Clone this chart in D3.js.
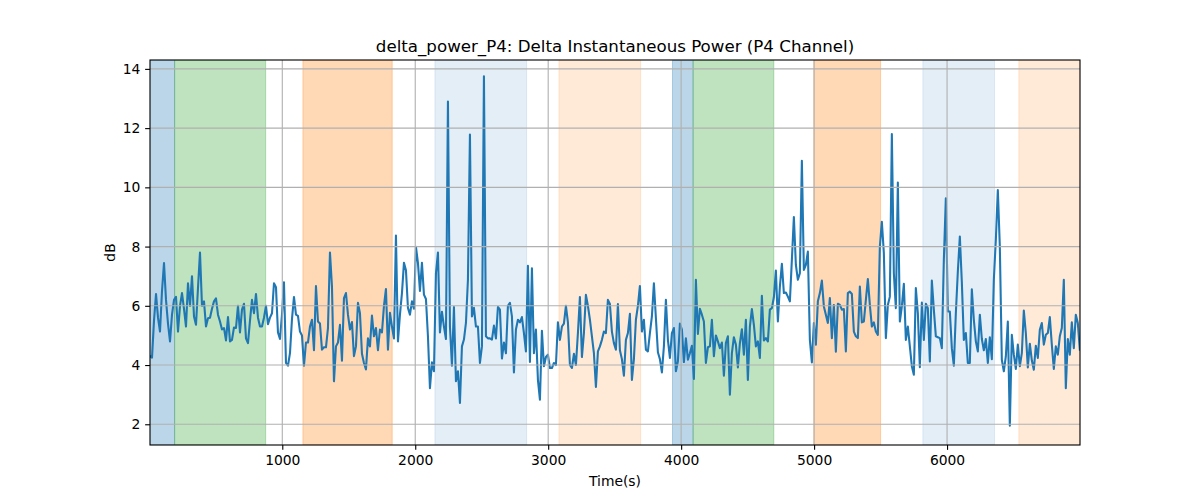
<!DOCTYPE html>
<html>
<head>
<meta charset="utf-8">
<script src="https://cdn.jsdelivr.net/npm/d3@7"></script>
<style>
  html, body { margin: 0; padding: 0; background: #ffffff; }
  svg { display: block; font-family: "DejaVu Sans", sans-serif; }
</style>
</head>
<body>
<svg id="chart" width="1200" height="500"></svg>
<script>
// ---- data ----
const titleText = "delta_power_P4: Delta Instantaneous Power (P4 Channel)";
const xLabel = "Time(s)";
const yLabel = "dB";
const xTicks = [1000, 2000, 3000, 4000, 5000, 6000];
const yTicks = [2, 4, 6, 8, 10, 12, 14];
const xDomain = [5, 7000];
const yDomain = [1.3, 14.3];
const tStart = 5;
const tStep = 15.04;
const values = [
  4.3, 4.25, 5.5, 6.4, 5.6, 5.13, 6.5, 7.44, 6.2, 5.4,
  4.8, 5.7, 6.2, 6.3, 5.13, 6.0, 6.43, 5.9, 5.3, 6.76,
  6.0, 7.0, 5.64, 5.36, 6.6, 7.8, 6.0, 6.15, 5.3, 5.58,
  5.6, 5.9, 6.15, 6.25, 5.7, 5.47, 5.2, 5.25, 4.83, 5.62,
  4.8, 4.85, 5.27, 5.25, 6.0, 5.1, 5.87, 6.07, 4.9, 4.74,
  5.5, 6.2, 5.75, 6.4, 5.6, 5.3, 5.3, 5.6, 6.0, 5.38,
  5.6, 5.75, 6.76, 6.63, 5.1, 4.88, 5.7, 6.79, 4.07, 3.98,
  4.4, 5.55, 6.3, 5.7, 5.66, 5.13, 5.0, 3.98, 4.76, 4.76,
  5.3, 5.53, 4.5, 6.67, 5.47, 5.4, 4.52, 4.6, 4.6, 5.25,
  7.8, 6.65, 3.45, 4.63, 4.76, 5.36, 4.15, 6.26, 6.43, 5.7,
  5.2, 5.45, 4.3, 4.63, 6.1, 5.75, 4.38, 4.07, 3.85, 4.9,
  4.63, 5.67, 4.97, 5.25, 4.5, 5.2, 5.1, 6.0, 6.57, 4.52,
  5.76, 5.3, 4.9, 8.37, 4.8, 5.7, 6.43, 7.45, 7.2, 5.93,
  5.7, 6.15, 5.9, 7.99, 7.45, 6.5, 7.45, 6.38, 6.23, 4.97,
  3.22, 4.09, 3.79, 7.1, 7.8, 5.1, 5.8, 5.3, 4.88, 12.9,
  5.3, 3.98, 5.96, 3.45, 3.79, 2.72, 4.63, 4.86, 5.42, 6.88,
  11.78, 5.64, 5.93, 5.3, 5.3, 4.07, 4.63, 13.75, 4.97, 4.9,
  4.9, 4.86, 5.33, 4.9, 5.96, 5.87, 4.22, 4.76, 4.4, 6.0,
  6.1, 5.64, 3.75, 5.2, 5.53, 5.44, 5.62, 5.08, 4.46, 7.35,
  4.1, 7.27, 4.4, 5.2, 3.5, 2.83, 5.16, 3.96, 4.27, 4.35,
  3.9, 3.9, 4.07, 4.0, 5.44, 4.85, 5.3, 5.4, 6.0, 5.44,
  4.0, 3.9, 4.38, 4.0, 5.08, 6.3, 4.27, 5.08, 6.37, 6.0,
  5.53, 4.97, 4.4, 3.26, 4.46, 4.63, 4.85, 5.13, 5.08, 6.2,
  6.06, 5.13, 4.74, 4.52, 6.06, 4.5, 4.2, 3.64, 4.85, 5.08,
  5.73, 3.5, 4.2, 5.53, 6.0, 6.67, 5.13, 5.53, 4.52, 4.46,
  5.08, 5.64, 6.76, 5.58, 4.43, 4.2, 3.75, 4.63, 6.2, 4.85,
  4.24, 5.08, 5.25, 3.79, 4.13, 5.4, 5.2, 4.1, 4.9, 4.18,
  4.4, 4.65, 3.53, 6.88, 5.05, 5.9, 5.7, 5.47, 4.07, 4.6,
  4.63, 5.53, 4.3, 5.0, 4.8, 4.57, 4.76, 3.64, 4.74, 4.97,
  3.0, 4.4, 4.94, 4.69, 3.92, 4.74, 5.21, 4.35, 5.53, 3.5,
  5.3, 5.89, 5.36, 4.63, 4.8, 4.24, 6.34, 4.83, 4.91, 4.8,
  5.87, 5.92, 6.29, 7.19, 5.47, 6.65, 7.42, 6.43, 6.45, 6.31,
  6.15, 7.55, 9.0, 7.38, 6.88, 7.1, 10.9, 7.21, 7.38, 7.83,
  4.85, 4.09, 5.42, 4.69, 6.15, 6.43, 6.85, 5.98, 5.7, 5.42,
  6.26, 4.91, 6.03, 4.45, 6.07, 6.03, 5.87, 5.89, 4.46, 6.43,
  6.48, 6.4, 5.13, 4.97, 4.91, 6.65, 5.44, 5.47, 6.2, 6.9,
  6.03, 5.3, 5.44, 5.13, 5.02, 8.0, 8.84, 7.78, 4.91, 6.03,
  6.31, 11.8, 7.1, 5.92, 10.16, 5.47, 5.98, 6.74, 4.85, 5.3,
  4.63, 3.96, 3.67, 6.6, 5.75, 3.93, 6.11, 4.85, 6.07, 5.92,
  4.12, 6.85, 5.87, 4.97, 4.94, 4.91, 4.57, 7.55, 9.63, 5.81,
  5.81, 4.57, 3.98, 5.75, 7.16, 8.34, 6.8, 4.85, 5.08, 4.07,
  4.07, 6.56, 5.53, 4.8, 4.46, 5.7, 4.88, 4.5, 4.88, 4.07,
  4.94, 4.2, 6.88, 8.22, 9.91, 8.0, 4.18, 3.79, 4.29, 5.47,
  1.95, 5.02, 4.35, 3.87, 4.69, 3.96, 4.4, 5.84, 5.08, 3.92,
  4.72, 4.16, 3.84, 4.65, 4.24, 5.19, 5.42, 4.69, 5.02, 5.08,
  5.62, 4.69, 3.87, 4.63, 4.35, 4.97, 5.25, 6.88, 3.22, 4.88,
  4.35, 5.44, 4.57, 5.7, 5.42, 4.52
];
// shaded intervals: start, end, colour, opacity
const spanStarts = [0, 190, 1155, 2148, 3081, 3935, 4090, 4998, 5818, 6540];
const spanEnds   = [190, 875, 1827, 2838, 3695, 4090, 4697, 5500, 6357, 7000];
const spanColors = ["#1f77b4", "#2ca02c", "#ff7f0e", "#1f77b4", "#ff7f0e",
                    "#1f77b4", "#2ca02c", "#ff7f0e", "#1f77b4", "#ff7f0e"];
const spanAlphas = [0.3, 0.3, 0.3, 0.12, 0.16, 0.3, 0.3, 0.3, 0.12, 0.16];

// ---- layout ----
const W = 1200, H = 500;
const L = 150, R = 1080, T = 60, B = 445;
const PT = 100 / 72; // matplotlib points -> px at 100 dpi

const svg = d3.select("#chart");
const x = d3.scaleLinear().domain(xDomain).range([L, R]);
const y = d3.scaleLinear().domain(yDomain).range([B, T]);

svg.append("defs").append("clipPath").attr("id", "clip")
  .append("rect").attr("x", L).attr("y", T).attr("width", R - L).attr("height", B - T);

const plot = svg.append("g").attr("clip-path", "url(#clip)");

// spans
const spans = spanStarts.map((s, i) => ({ s, e: spanEnds[i], c: spanColors[i], a: spanAlphas[i] }));
plot.selectAll("rect.span").data(spans).enter().append("rect")
  .attr("class", "span")
  .attr("x", d => x(d.s))
  .attr("y", T)
  .attr("width", d => x(d.e) - x(d.s))
  .attr("height", B - T)
  .attr("fill", d => d.c)
  .attr("fill-opacity", d => d.a)
  .attr("stroke", d => d.c)
  .attr("stroke-opacity", d => d.a)
  .attr("stroke-width", 1);

// grid
const grid = svg.append("g");
grid.selectAll("line.gx").data(xTicks).enter().append("line")
  .attr("x1", d => x(d)).attr("x2", d => x(d))
  .attr("y1", T).attr("y2", B)
  .attr("stroke", "#b0b0b0").attr("stroke-width", 0.8 * PT);
grid.selectAll("line.gy").data(yTicks).enter().append("line")
  .attr("x1", L).attr("x2", R)
  .attr("y1", d => y(d)).attr("y2", d => y(d))
  .attr("stroke", "#b0b0b0").attr("stroke-width", 0.8 * PT);

// line
const pts = values.map((v, i) => [tStart + i * tStep, v]);
const line = d3.line().x(d => x(d[0])).y(d => y(d[1]));
plot.append("path").datum(pts)
  .attr("d", line)
  .attr("fill", "none")
  .attr("stroke", "#1f77b4")
  .attr("stroke-width", 1.5 * PT)
  .attr("stroke-linejoin", "round")
  .attr("stroke-linecap", "square");

// axes
const xAxis = d3.axisBottom(x).tickValues(xTicks).tickSize(3.5 * PT).tickPadding(3.5 * PT).tickFormat(d3.format("d"));
const yAxis = d3.axisLeft(y).tickValues(yTicks).tickSize(3.5 * PT).tickPadding(3.5 * PT).tickFormat(d3.format("d"));

const gx = svg.append("g").attr("transform", `translate(0,${B})`).call(xAxis);
const gy = svg.append("g").attr("transform", `translate(${L},0)`).call(yAxis);
[gx, gy].forEach(g => {
  g.select(".domain").remove();
  g.selectAll(".tick line").attr("stroke", "#000").attr("stroke-width", 0.8 * PT);
  g.selectAll(".tick text").attr("fill", "#000")
    .style("font-family", "'DejaVu Sans', sans-serif").style("font-size", (10 * PT) + "px");
});

// frame
svg.append("rect").attr("x", L).attr("y", T).attr("width", R - L).attr("height", B - T)
  .attr("fill", "none").attr("stroke", "#000").attr("stroke-width", 0.8 * PT);

// labels
svg.append("text").attr("x", (L + R) / 2).attr("y", 52)
  .attr("text-anchor", "middle").style("font-size", (12 * PT) + "px").attr("fill", "#000")
  .text(titleText);
svg.append("text").attr("x", (L + R) / 2).attr("y", 486)
  .attr("text-anchor", "middle").style("font-size", (10 * PT) + "px").attr("fill", "#000")
  .text(xLabel);
svg.append("text").attr("transform", `translate(115,${(T + B) / 2}) rotate(-90)`)
  .attr("text-anchor", "middle").style("font-size", (10 * PT) + "px").attr("fill", "#000")
  .text(yLabel);
</script>
</body>
</html>
